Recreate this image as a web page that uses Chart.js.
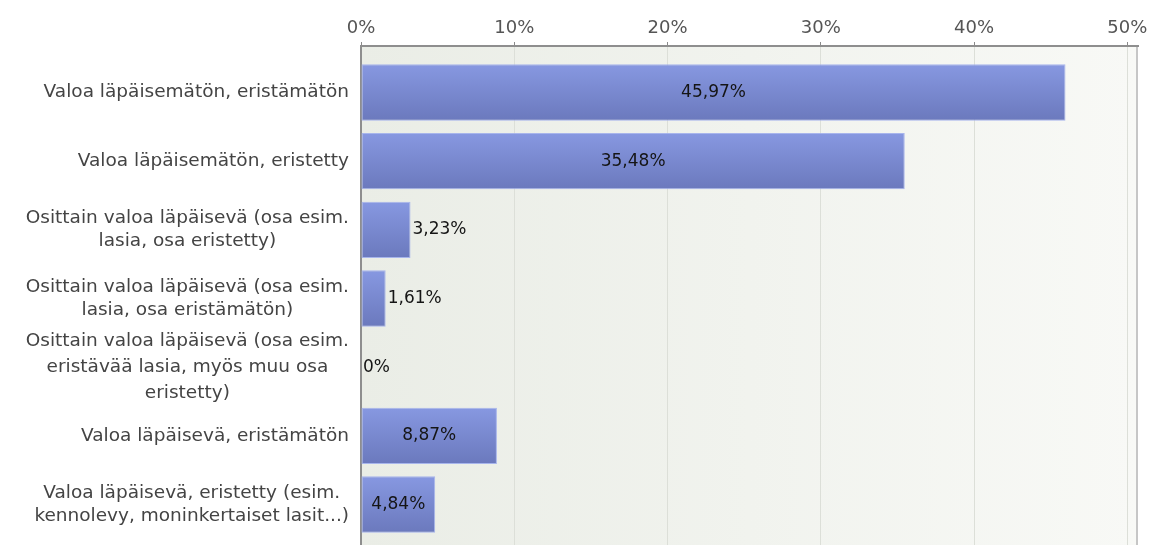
<!DOCTYPE html>
<html>
<head>
<meta charset="utf-8">
<script src="https://cdn.jsdelivr.net/npm/chart.js@4"></script>
<style>
  html, body { margin: 0; background: #fff; }
  #wrap { width: 1151px; height: 545px; }
</style>
</head>
<body>
<div id="wrap"><canvas id="chart"></canvas></div>
<script>
// answer options, one entry per bar (multi-line ones as arrays)
const categories = [
  "Valoa läpäisemätön, eristämätön",
  "Valoa läpäisemätön, eristetty",
  ["Osittain valoa läpäisevä (osa esim.", "lasia, osa eristetty)"],
  ["Osittain valoa läpäisevä (osa esim.", "lasia, osa eristämätön)"],
  ["Osittain valoa läpäisevä (osa esim.", "eristävää lasia, myös muu osa", "eristetty)"],
  "Valoa läpäisevä, eristämätön",
  ["Valoa läpäisevä, eristetty (esim.", "kennolevy, moninkertaiset lasit...)"]
];
// share of answers, percent
const shares = [45.97, 35.48, 3.23, 1.61, 0, 8.87, 4.84];
const axisTicks = [0, 10, 20, 30, 40, 50];
const axisMax = 50.7;

const FONT = '"DejaVu Sans", Verdana, sans-serif';
const BAR_PCT = 0.82;

function formatShare(v) {
  return v === 0 ? "0%" : v.toFixed(2).replace(".", ",") + "%";
}

function barFill(ctx) {
  const chart = ctx.chart;
  const y = chart.scales.y;
  if (!y || ctx.type !== "data") return "#7888d0";
  const centre = y.getPixelForValue(ctx.dataIndex);
  const half = Math.abs(y.getPixelForValue(1) - y.getPixelForValue(0)) * BAR_PCT / 2;
  if (!isFinite(centre) || !isFinite(half) || half === 0) return "#7888d0";
  const g = chart.ctx.createLinearGradient(0, centre - half, 0, centre + half);
  g.addColorStop(0, "#8798e1");
  g.addColorStop(1, "#6b79bd");
  return g;
}

const plotBackground = {
  id: "plotBackground",
  beforeDraw(chart) {
    const { ctx, chartArea: a } = chart;
    ctx.save();
    const g = ctx.createLinearGradient(a.left, 0, a.right, 0);
    g.addColorStop(0, "#eaede6");
    g.addColorStop(1, "#f8f9f6");
    ctx.fillStyle = g;
    ctx.fillRect(a.left, a.top, a.right - a.left, a.bottom - a.top);
    ctx.strokeStyle = "#c6c6c6";
    ctx.lineWidth = 2;
    ctx.beginPath();
    ctx.moveTo(a.right - 1, a.top);
    ctx.lineTo(a.right - 1, a.bottom);
    ctx.stroke();
    ctx.restore();
  }
};

// category names: block right-aligned to the axis, lines centred inside the block
const categoryLabels = {
  id: "categoryLabels",
  afterDraw(chart) {
    const { ctx } = chart;
    const y = chart.scales.y;
    const right = chart.chartArea.left - 12;
    ctx.save();
    ctx.font = "18.5px " + FONT;
    ctx.fillStyle = "#444";
    ctx.textAlign = "center";
    ctx.textBaseline = "middle";
    categories.forEach((label, i) => {
      const lines = Array.isArray(label) ? label : [label];
      const width = Math.max(...lines.map(l => ctx.measureText(l).width));
      const step = lines.length > 2 ? 26 : 23;
      const cy = y.getPixelForValue(i);
      lines.forEach((line, k) => {
        ctx.fillText(line, right - width / 2, cy + (k - (lines.length - 1) / 2) * step);
      });
    });
    ctx.restore();
  }
};

const valueLabels = {
  id: "valueLabels",
  afterDatasetsDraw(chart) {
    const { ctx } = chart;
    const meta = chart.getDatasetMeta(0);
    ctx.save();
    ctx.font = "17px " + FONT;
    ctx.fillStyle = "#151515";
    ctx.textBaseline = "middle";
    meta.data.forEach((bar, i) => {
      const text = formatShare(shares[i]);
      const w = ctx.measureText(text).width;
      if (bar.x - bar.base > w + 10) {
        ctx.textAlign = "center";
        ctx.fillText(text, (bar.x + bar.base) / 2, bar.y);
      } else {
        ctx.textAlign = "left";
        ctx.fillText(text, bar.x + 2, bar.y);
      }
    });
    ctx.restore();
  }
};

new Chart(document.getElementById("chart"), {
  type: "bar",
  data: {
    datasets: [{
      data: shares.map((v, i) => ({ x: v, y: i })),
      backgroundColor: barFill,
      borderColor: "rgba(160,174,236,0.9)",
      borderWidth: 1,
      borderSkipped: false,
      barPercentage: BAR_PCT,
      categoryPercentage: 1
    }]
  },
  options: {
    indexAxis: "y",
    responsive: true,
    maintainAspectRatio: false,
    animation: false,
    layout: { padding: { left: 361, right: 13, top: 0, bottom: 0 } },
    plugins: { legend: { display: false }, tooltip: { enabled: false } },
    scales: {
      x: {
        type: "linear",
        position: "top",
        min: 0,
        max: axisMax,
        afterBuildTicks: s => { s.ticks = axisTicks.map(v => ({ value: v })); },
        afterFit: s => { s.height = 46; },
        ticks: {
          includeBounds: false,
          padding: 3,
          color: "#555",
          font: { family: FONT, size: 18 },
          callback: v => v + "%"
        },
        grid: { color: "#dcdfd8", tickColor: "#8a8a8a", tickLength: 4 },
        border: { color: "#8e8e8e", width: 2 }
      },
      y: {
        type: "linear",
        reverse: true,
        offset: false,
        min: -0.677,
        max: 6.59,
        afterBuildTicks: s => { s.ticks = categories.map((c, i) => ({ value: i })); },
        afterFit: s => { s.width = 0; },
        ticks: { display: false },
        grid: { display: false },
        border: { color: "#8e8e8e", width: 2 }
      }
    }
  },
  plugins: [plotBackground, categoryLabels, valueLabels]
});
</script>
</body>
</html>
